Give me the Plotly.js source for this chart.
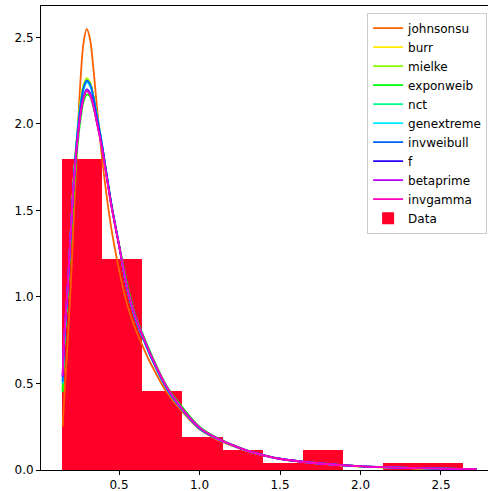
<!DOCTYPE html>
<html>
<head>
<meta charset="utf-8">
<script src="https://cdn.plot.ly/plotly-3.0.1.min.js"></script>
<style>html,body{margin:0;padding:0;background:#fff;}#chart{width:488px;height:491px;}</style>
</head>
<body>
<div id="chart"></div>
<script>
// Histogram (density) of the data
var binCenters = [0.271, 0.520, 0.769, 1.019, 1.268, 1.518, 1.767, 2.016, 2.266, 2.515];
var binWidth = 0.2494;
var binDensity = [1.795, 1.222, 0.458, 0.191, 0.115, 0.038, 0.115, 0.0, 0.038, 0.038];

// Fitted pdf curves
var xs = [0.15,0.16,0.18,0.20,0.22,0.24,0.26,0.28,0.30,0.32,0.34,0.36,0.38,0.40,0.45,0.50,0.55,0.60,0.65,0.70,0.80,0.90,1.00,1.10,1.20,1.30,1.40,1.50,1.70,1.90,2.10,2.30,2.50,2.72];

var johnsonsu  = [0.25,0.42,0.72,1.06,1.47,1.88,2.24,2.47,2.55,2.49,2.33,2.13,1.94,1.76,1.41,1.16,0.96,0.82,0.71,0.61,0.445,0.33,0.235,0.18,0.14,0.107,0.083,0.063,0.040,0.026,0.017,0.011,0.007,0.004];
var burr       = [0.47,0.73,1.02,1.37,1.70,1.94,2.12,2.23,2.265,2.24,2.17,2.07,1.96,1.85,1.55,1.30,1.05,0.88,0.76,0.65,0.465,0.34,0.24,0.184,0.144,0.109,0.084,0.064,0.041,0.026,0.017,0.011,0.007,0.005];
var mielke     = [0.46,0.73,1.02,1.37,1.70,1.94,2.12,2.22,2.26,2.24,2.17,2.07,1.96,1.85,1.55,1.30,1.05,0.88,0.76,0.65,0.465,0.34,0.24,0.184,0.144,0.109,0.084,0.064,0.041,0.026,0.017,0.011,0.007,0.005];
var exponweib  = [0.45,0.72,1.00,1.32,1.62,1.85,2.02,2.13,2.17,2.16,2.10,2.02,1.93,1.83,1.55,1.31,1.08,0.90,0.78,0.67,0.48,0.355,0.25,0.19,0.148,0.112,0.086,0.066,0.042,0.027,0.018,0.012,0.008,0.005];
var nct        = [0.50,0.74,1.03,1.37,1.69,1.93,2.10,2.21,2.25,2.23,2.16,2.06,1.96,1.85,1.55,1.30,1.05,0.88,0.76,0.65,0.465,0.34,0.24,0.185,0.145,0.11,0.085,0.065,0.042,0.027,0.018,0.012,0.008,0.005];
var genextreme = [0.50,0.74,1.03,1.37,1.69,1.93,2.10,2.20,2.24,2.22,2.16,2.06,1.96,1.85,1.55,1.30,1.05,0.88,0.76,0.65,0.465,0.34,0.24,0.185,0.145,0.11,0.085,0.065,0.042,0.027,0.018,0.012,0.008,0.005];
var invweibull = [0.51,0.75,1.03,1.37,1.69,1.93,2.10,2.21,2.25,2.23,2.16,2.06,1.96,1.85,1.55,1.30,1.05,0.88,0.76,0.65,0.465,0.34,0.24,0.185,0.145,0.11,0.085,0.065,0.042,0.027,0.018,0.012,0.008,0.005];
var fdist      = [0.54,0.77,1.04,1.37,1.67,1.89,2.06,2.16,2.20,2.18,2.12,2.03,1.94,1.84,1.55,1.30,1.06,0.89,0.77,0.66,0.472,0.345,0.245,0.187,0.146,0.11,0.085,0.065,0.042,0.027,0.018,0.012,0.008,0.005];
var betaprime  = [0.54,0.77,1.04,1.37,1.67,1.89,2.05,2.15,2.195,2.17,2.11,2.02,1.93,1.83,1.54,1.30,1.06,0.89,0.77,0.66,0.473,0.345,0.245,0.187,0.146,0.11,0.085,0.065,0.042,0.027,0.018,0.012,0.008,0.005];
var invgamma   = [0.55,0.78,1.04,1.37,1.67,1.89,2.05,2.15,2.19,2.17,2.11,2.02,1.93,1.83,1.54,1.30,1.06,0.89,0.77,0.66,0.475,0.345,0.245,0.187,0.146,0.11,0.085,0.065,0.042,0.027,0.018,0.012,0.008,0.005];

var names  = ['johnsonsu','burr','mielke','exponweib','nct','genextreme','invweibull','f','betaprime','invgamma'];
var series = [johnsonsu, burr, mielke, exponweib, nct, genextreme, invweibull, fdist, betaprime, invgamma];
var colors = ['#ff6000','#ffeb00','#8aff00','#00ff00','#00ff89','#00ebff','#0061ff','#2900ff','#b400ff','#ff00bf'];

var traces = [];
for (var i = 0; i < names.length; i++) {
  traces.push({
    type: 'scatter', mode: 'lines', x: xs, y: series[i], name: names[i],
    line: {color: colors[i], width: 1.8, shape: 'spline', smoothing: 1.0},
    hoverinfo: 'skip'
  });
}
traces.push({
  type: 'bar', x: binCenters, y: binDensity, width: binWidth, name: 'Data',
  marker: {color: '#ff0029', line: {width: 0}}, hoverinfo: 'skip'
});

var font = {family: 'DejaVu Sans', size: 12, color: '#000'};
var layout = {
  width: 488, height: 491,
  margin: {l: 41, r: 0, t: 6, b: 21, pad: 0},
  paper_bgcolor: '#fff', plot_bgcolor: '#fff',
  font: font,
  showlegend: true,
  bargap: 0,
  xaxis: {
    range: [0.0155, 2.792], tick0: 0, dtick: 0.5, tickformat: '.1f',
    showgrid: false, zeroline: false, showline: true, linecolor: '#000', linewidth: 1,
    mirror: true, ticks: 'outside', ticklen: 4, tickwidth: 1, tickcolor: '#000',
    tickfont: font, fixedrange: true
  },
  yaxis: {
    range: [0, 2.682], tick0: 0, dtick: 0.5, tickformat: '.1f',
    showgrid: false, zeroline: false, showline: true, linecolor: '#000', linewidth: 1,
    ticks: 'outside', ticklen: 4, tickwidth: 1, tickcolor: '#000',
    tickfont: font, fixedrange: true
  },
  legend: {
    x: 0.998, xanchor: 'right', y: 0.9856, yanchor: 'top',
    bgcolor: 'rgba(255,255,255,0.8)', bordercolor: '#cccccc', borderwidth: 1,
    font: font, itemwidth: 30, tracegroupgap: 0
  }
};

Plotly.newPlot('chart', traces, layout, {staticPlot: true, displayModeBar: false});
</script>
</body>
</html>
